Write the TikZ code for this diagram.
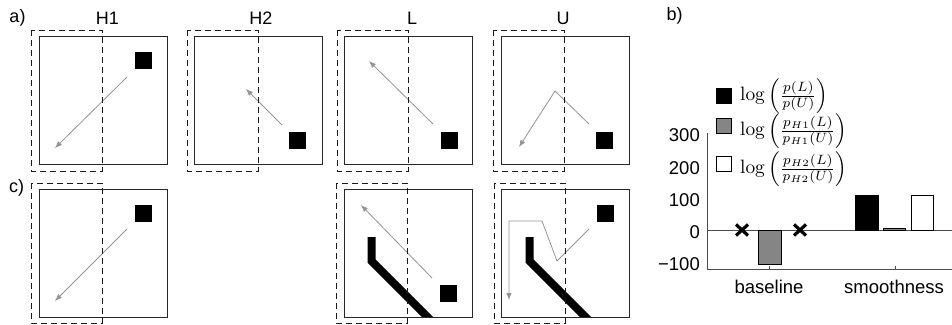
\documentclass[tikz,border=0pt]{standalone}
\usepackage[no-math]{fontspec}
\usepackage{graphicx}
\newfontfamily\arialf{Liberation Sans}
\usetikzlibrary{arrows.meta}
\tikzset{
  frame/.style={draw=black!85, line width=1pt},
  dashbox/.style={draw=black!90, line width=0.8pt, dash pattern=on 6pt off 4pt},
  traj/.style={draw=black!42, line width=0.8pt, -{Latex[length=7pt,width=5.5pt]}},
  goal/.style={fill=black, draw=none, minimum size=17pt, inner sep=0pt},
  wall/.style={draw=black, line width=8pt, line join=miter},
  lbl/.style={font=\arialf\fontsize{18}{20}\selectfont, inner sep=0pt},
  clbl/.style={font=\arialf\fontsize{18.5}{20}\selectfont, inner sep=0pt},
  legsq/.style={draw=black, line width=0.7pt, minimum size=15pt, inner sep=0pt},
  bar/.style={draw=black, line width=0.8pt},
  axis/.style={draw=black!70, line width=0.8pt},
  xmark/.style={draw=black, line width=3.2pt}
}
\begin{document}
\begin{tikzpicture}[x=1pt,y=-1pt]
\useasboundingbox[fill=white] (0,0) rectangle (952,324);

% labels
\node[lbl] (la) at (17.5,18) {a)};
\node[lbl] (lc) at (16.5,188) {c)};
\node[lbl] (lb) at (674.5,16) {b)};
\node[lbl] (tH1) at (107.5,18.5) {H1};
\node[lbl] (tH2) at (261,18.5) {H2};
\node[lbl] (tL) at (412,18.5) {L};
\node[lbl] (tU) at (563,18.5) {U};

% ---------- top row ----------
% H1
\begin{scope}[shift={(39,36)}]
  \coordinate (aH1s) at (88,41);
  \coordinate (aH1e) at (16,112);
  \draw[traj] (aH1s) -- (aH1e);
  \node[goal] (gH1) at (104,24.5) {};
  \draw[frame] (0,0) rectangle (128,128);
  \draw[dashbox] (-8,-6) rectangle (63,135);
\end{scope}
% H2
\begin{scope}[shift={(194,36)}]
  \coordinate (aH2s) at (88,89);
  \coordinate (aH2e) at (52,53);
  \draw[traj] (aH2s) -- (aH2e);
  \node[goal] (gH2) at (103.5,104.5) {};
  \draw[frame] (0,0) rectangle (128,128);
  \draw[dashbox] (-7,-6) rectangle (64,135);
\end{scope}
% L
\begin{scope}[shift={(344,36)}]
  \coordinate (aLs) at (89,88);
  \coordinate (aLe) at (25,25);
  \draw[traj] (aLs) -- (aLe);
  \node[goal] (gL) at (105.5,104.5) {};
  \draw[frame] (0,0) rectangle (128,128);
  \draw[dashbox] (-7,-6) rectangle (64,135);
\end{scope}
% U
\begin{scope}[shift={(501,36)}]
  \coordinate (aUs) at (88,88);
  \coordinate (aUm) at (54,55);
  \coordinate (aUe) at (18,111);
  \draw[traj] (aUs) -- (aUm) -- (aUe);
  \node[goal] (gU) at (103.5,104.5) {};
  \draw[frame] (0,0) rectangle (128,128);
  \draw[dashbox] (-8,-6) rectangle (63,135);
\end{scope}

% ---------- bottom row ----------
% H1c
\begin{scope}[shift={(39,189)}]
  \coordinate (cH1s) at (88,40);
  \coordinate (cH1e) at (16,112);
  \draw[traj] (cH1s) -- (cH1e);
  \node[goal] (gcH1) at (104.5,24) {};
  \draw[frame] (0,0) rectangle (128,128);
  \draw[dashbox] (-8,-6) rectangle (63,134);
\end{scope}
% Lc
\begin{scope}[shift={(344,189)}]
  \begin{scope}
    \clip (0,0) rectangle (128,128);
    \draw[wall] (27.5,48) -- (27.5,72) -- (88,132.5);
  \end{scope}
  \coordinate (cLs) at (88,89);
  \coordinate (cLe) at (17,16);
  \draw[traj] (cLs) -- (cLe);
  \node[goal] (gcL) at (104.5,104.5) {};
  \draw[frame] (0,0) rectangle (128,128);
  \draw[dashbox] (-8,-6) rectangle (63,134);
\end{scope}
% Uc
\begin{scope}[shift={(501,189)}]
  \begin{scope}
    \clip (0,0) rectangle (128,128);
    \draw[wall] (28.5,48) -- (28.5,72) -- (89,132.5);
  \end{scope}
  \coordinate (cUs) at (88,40);
  \coordinate (cUm) at (56,72);
  \coordinate (cUn) at (41,32);
  \coordinate (cUo) at (8,32);
  \coordinate (cUe) at (8,111);
  \draw[traj] (cUs) -- (cUm) -- (cUn) -- (cUo) -- (cUe);
  \node[goal] (gcU) at (104.5,24) {};
  \draw[frame] (0,0) rectangle (128,128);
  \draw[dashbox] (-7,-6) rectangle (64,134);
\end{scope}

% ---------- chart b ----------
\coordinate (ytop) at (707,133);
\coordinate (yorig) at (707,269);
\coordinate (xend) at (952,269);
\coordinate (z0) at (707,230);
\coordinate (z1) at (952,230);
\draw[axis] (ytop) -- (yorig) -- (xend);
\draw[axis] (z0) -- (z1);
\coordinate (tk1) at (769,269);
\coordinate (tk2) at (895,269);
\draw[axis] (tk1) -- ++(0,-3);
\draw[axis] (tk2) -- ++(0,-3);

\node[clbl, anchor=east] (y300) at (700,135) {300};
\node[clbl, anchor=east] (y200) at (700,168) {200};
\node[clbl, anchor=east] (y100) at (700,200) {100};
\node[clbl, anchor=east] (y0) at (700,232.5) {0};
\node[clbl, anchor=east] (ym100) at (700,264) {\char"2212 100};

\node[clbl] (cat1) at (769,287) {baseline};
\node[clbl] (cat2) at (894,287) {smoothness};

% bars
\draw[bar, fill=black!48] (758,230) rectangle (781,264);
\draw[bar, fill=black] (855,195) rectangle (878,230);
\draw[bar, fill=black!48] (883,228) rectangle (905,230);
\draw[bar, fill=white] (911,195) rectangle (933,230);

% X marks
\foreach \cx/\nm in {742/x1, 800/x2} {
  \coordinate (\nm a) at (\cx-6,224.5);
  \coordinate (\nm b) at (\cx+6,235.5);
  \coordinate (\nm c) at (\cx-6,235.5);
  \coordinate (\nm d) at (\cx+6,224.5);
  \draw[xmark] (\nm a) -- (\nm b);
  \draw[xmark] (\nm c) -- (\nm d);
}

% legend
\node[legsq, fill=black] (k1) at (723.5,96) {};
\node[legsq, fill=black!48] (k2) at (723.5,126) {};
\node[legsq, fill=white] (k3) at (723.5,163.5) {};
\node[anchor=west, inner sep=0pt] (f1) at (740,96)
  {\resizebox{88pt}{!}{$\log\left(\frac{p(L)}{p(U)}\right)$}};
\node[anchor=west, inner sep=0pt] (f2) at (740,131)
  {\resizebox{107pt}{!}{$\log\left(\frac{p_{H1}(L)}{p_{H1}(U)}\right)$}};
\node[anchor=west, inner sep=0pt] (f3) at (740,169)
  {\resizebox{107pt}{!}{$\log\left(\frac{p_{H2}(L)}{p_{H2}(U)}\right)$}};
\end{tikzpicture}
\end{document}
